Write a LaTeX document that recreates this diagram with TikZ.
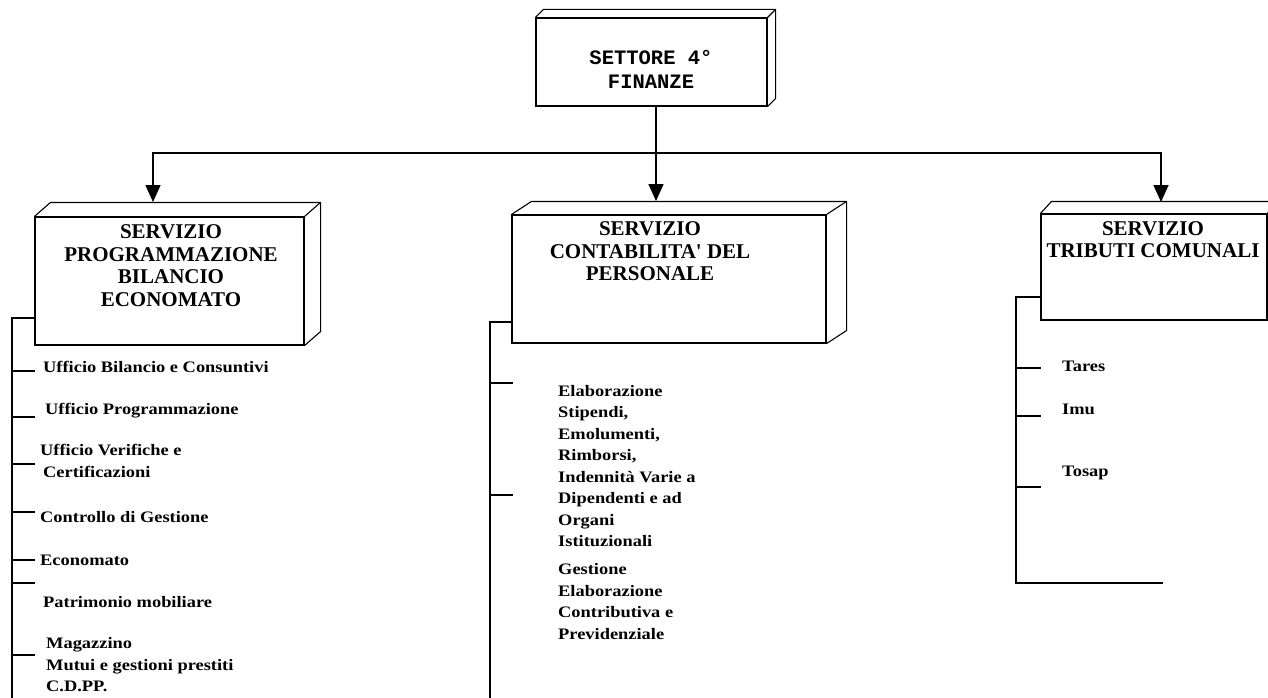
\documentclass[tikz,border=0pt]{standalone}
\usepackage{fontspec}
\newfontfamily\headfont{Liberation Serif}
\newfontfamily\itemfont[FakeStretch=1.15]{Liberation Serif}
\newfontfamily\codefont{Liberation Mono}
\usetikzlibrary{positioning,arrows.meta,calc}

\begin{document}
\begin{tikzpicture}[x=1pt, y=-1pt,
    front/.style={draw, line width=1.1pt, inner sep=0pt},
    face/.style={line width=1.1pt, line join=round},
    head/.style={align=center, inner sep=0pt, font=\headfont\bfseries\fontsize{21}{22.5}\selectfont},
    code/.style={align=center, inner sep=0pt, font=\codefont\bfseries\fontsize{20.5}{24}\selectfont},
    item/.style={align=left, anchor=west, inner sep=0pt, font=\itemfont\bfseries\fontsize{16}{21.5}\selectfont},
    wire/.style={line width=1.6pt},
    arr/.style={wire, -{Triangle[width=15pt,length=17pt]}}]
    \useasboundingbox (0,0) rectangle (1268,698);
    \clip (0,0) rectangle (1268,698);

    % boxes (front faces)
    \node (top) [front, minimum width=231pt, minimum height=88pt] at (651.5,62) {};
    \node (prog) [front, minimum width=269pt, minimum height=128pt] at (169.5,281) {};
    \node (cont) [front, minimum width=314pt, minimum height=128pt] at (669,279) {};
    \node (trib) [front, minimum width=226pt, minimum height=106pt] at (1154,267) {};

    % top and side faces
    \foreach \b/\dx/\dy in {top/8/-8, prog/16/-14, cont/20/-13, trib/11/-12} {
        \draw[face] (\b.north west) -- ++(\dx,\dy) -- ([shift={(\dx,\dy)}]\b.north east)
            -- ([shift={(\dx,\dy)}]\b.south east) -- (\b.south east);
        \draw[face] (\b.north east) -- ++(\dx,\dy);
    }

    % box texts
    \node (toptxt) [code] at (651,69) {SETTORE 4°\\FINANZE};
    \node (progtxt) [head] at (171,265.5) {SERVIZIO\\PROGRAMMAZIONE\\BILANCIO\\ECONOMATO};
    \node (conttxt) [head] at (650,251.5) {SERVIZIO\\CONTABILITA' DEL\\PERSONALE};
    \node (tribtxt) [head] at (1153,239.5) {SERVIZIO\\TRIBUTI COMUNALI};

    % arrows from the sector
    \coordinate (hub) at (656,153);
    \coordinate (a1) at (153,202);
    \coordinate (a2) at (656,201);
    \coordinate (a3) at (1161,202);
    \draw[wire] (top.south -| hub) -- (hub);
    \draw[arr] (hub) -| (a1);
    \draw[arr] (hub) -- (a2);
    \draw[arr] (hub) -| (a3);

    % left column
    \coordinate (lbot) at (12,698);
    \draw[wire] (prog.west |- 0,318) -| (lbot);
    \foreach \y in {371,417,464,512,560,583,655}
        \draw[wire] (lbot |- 0,\y) -- ++(23,0);
    \node (ub) [item] at (43,367) {Ufficio Bilancio e Consuntivi};
    \node (up) [item] at (45,411) {Ufficio Programmazione};
    \node (uv) [item] at (40,461) {Ufficio Verifiche e\\\hspace*{3pt}Certificazioni};
    \node (cg) [item] at (40,517) {Controllo di Gestione};
    \node (ec) [item] at (40,560) {Economato};
    \node (pm) [item] at (43,602) {Patrimonio mobiliare};
    \node (mg) [item] at (46,665) {Magazzino\\Mutui e gestioni prestiti\\C.D.PP.};

    % middle column
    \coordinate (mbot) at (490,698);
    \draw[wire] (cont.west |- 0,322) -| (mbot);
    \foreach \y in {383,495}
        \draw[wire] (mbot |- 0,\y) -- ++(23,0);
    \node (el) [item] at (558,466) {Elaborazione\\Stipendi,\\Emolumenti,\\Rimborsi,\\Indennità Varie a\\Dipendenti e ad\\Organi\\Istituzionali};
    \node (ge) [item] at (558,601.5) {Gestione\\Elaborazione\\Contributiva e\\Previdenziale};

    % right column
    \coordinate (rbot) at (1016,583);
    \coordinate (rend) at (1163,583);
    \draw[wire] (trib.west |- 0,297) -| (rbot) -- (rend);
    \foreach \y in {368,416,487}
        \draw[wire] (rbot |- 0,\y) -- ++(25,0);
    \node (ta) [item] at (1062,366) {Tares};
    \node (im) [item] at (1062,409) {Imu};
    \node (to) [item] at (1062,473) {Tosap};
\end{tikzpicture}
\end{document}
